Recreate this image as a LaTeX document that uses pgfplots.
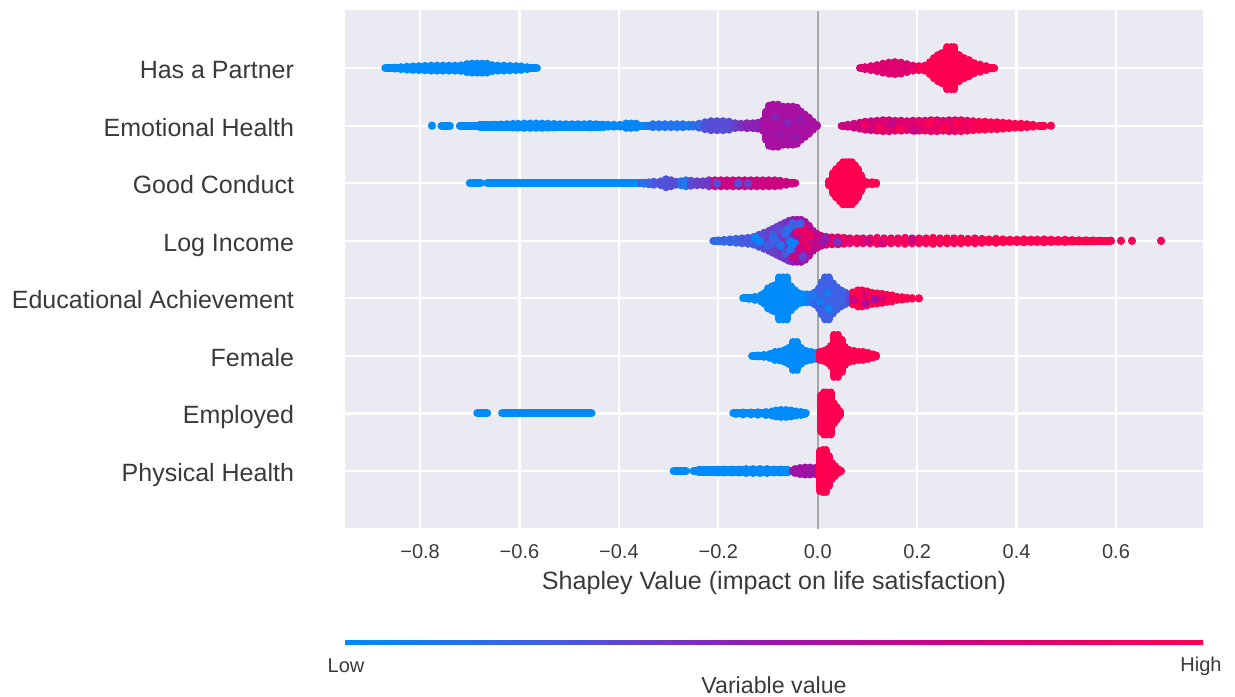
\documentclass[border=0pt]{standalone}
\usepackage{pgfplots}
\usepackage{pgfplotstable}
\usepackage{fontspec}
\setmainfont{Liberation Sans}
\pgfplotsset{compat=1.18}
\definecolor{bgc}{HTML}{EAEAF2}
\definecolor{txt}{HTML}{3A3A3A}
\definecolor{s0}{RGB}{0,139,251}
\definecolor{s1}{RGB}{70,90,225}
\definecolor{s2}{RGB}{155,20,170}
\definecolor{s3}{RGB}{215,0,120}
\definecolor{s4}{RGB}{255,0,81}
\pgfdeclarehorizontalshading{shapbar}{100bp}{
 color(0bp)=(s0);
 color(25bp)=(s0);
 color(37.5bp)=(s1);
 color(50bp)=(s2);
 color(62.5bp)=(s3);
 color(75bp)=(s4);
 color(100bp)=(s4)}
\pgfplotstableread{
x y u h m
-0.870 7 0.305 0 0
-0.850 7 0 0.5 0
-0.838 7 0 1 0
-0.826 7 0 1.5 0
-0.814 7 0 1.8 0
-0.802 7 0 2 0
-0.790 7 0 2.2 0
-0.778 7 0 2.5 0
-0.766 7 0 2.5 0
-0.754 7 0 2.5 0
-0.742 7 0 2.5 0
-0.730 7 0 2.5 0
-0.718 7 0 2.8 0
-0.706 7 0 4 0
-0.696 7 0 4.5 0
-0.686 7 0 4.5 0
-0.676 7 0 4.5 0
-0.666 7 0 4.5 0
-0.656 7 0 3 0
-0.644 7 0 2.5 0
-0.632 7 0 2.5 0
-0.620 7 0 2.2 0
-0.608 7 0 2 0
-0.596 7 0 1.8 0
-0.584 7 0 1 0
0.085 7 0.12 0 0.8
0.095 7 0 1 0.8
0.107 7 0 2 0.8
0.119 7 0 3 0.8
0.131 7 0 4.5 0.8
0.143 7 0 5.5 0.8
0.155 7 0 6 0.8
0.167 7 0 5.5 0.8
0.179 7 0 4 0.8
0.191 7 0 2.5 0.85
0.203 7 0 2 0.9
0.205 7 0.15 0 1
0.215 7 0 2.5 0.95
0.225 7 0 6 1
0.233 7 0 10 1
0.241 7 0 13 1
0.249 7 0 15 1
0.260 7 0 21 1
0.268 7 0 21 1
0.275 7 0 21 1
0.285 7 0 13 1
0.295 7 0 10 1
0.305 7 0 8 1
0.315 7 0 5 1
0.327 7 0 3.5 1
0.338 7 0 2 1
0.350 7 0 0.3 1
-0.776 6 0 0.2 0
-0.757 6 0.017 0 0
-0.720 6 0.330 0 0
-0.680 6.02 0.25 0 0
-0.680 5.98 0.25 0 0
-0.670 6 0 0.5 0
-0.650 6 0 1 0
-0.638 6 0 1.2 0
-0.626 6 0 1.5 0
-0.614 6 0 1.8 0
-0.602 6 0 2 0
-0.590 6 0 2.2 0
-0.578 6 0 2.2 0
-0.566 6 0 2.2 0
-0.554 6 0 2.2 0
-0.542 6 0 2 0
-0.530 6 0 1.8 0
-0.518 6 0 1.5 0
-0.506 6 0 1.5 0
-0.494 6 0 1.5 0
-0.482 6 0 1.5 0
-0.470 6 0 1.5 0
-0.458 6 0 1.8 0
-0.446 6 0 1.5 0
-0.434 6 0 1 0
-0.422 6 0 1 0
-0.410 6 0 1 0
-0.398 6 0 1 0
-0.390 6 0.06 0 0.02
-0.385 6 0 2.2 0.02
-0.375 6 0 2.2 0.02
-0.365 6 0 2 0.02
-0.340 6 0.09 0 0.12
-0.332 6 0 1.5 0.12
-0.320 6 0 1.5 0.12
-0.308 6 0 1.5 0.12
-0.296 6 0 1.5 0.12
-0.284 6 0 1.5 0.12
-0.272 6 0 1.5 0.12
-0.260 6 0 1 0.1
-0.250 6 0 1 0.15
-0.238 6 0 2 0.2
-0.226 6 0 3.5 0.28
-0.214 6 0 4.5 0.3
-0.202 6 0 4.5 0.3
-0.190 6 0 4.5 0.3
-0.178 6 0 4 0.3
-0.166 6 0 2.5 0.35
-0.154 6 0 2 0.4
-0.142 6 0 2.5 0.45
-0.130 6 0 2.5 0.45
-0.120 6 0 3 0.45
-0.110 6 0 5 0.5
-0.104 6 0 14 0.55
-0.098 6 0 20 0.55
-0.090 6 0 21 0.55
-0.080 6 0 21 0.55
-0.070 6 0 19 0.55
-0.060 6 0 19 0.55
-0.050 6 0 19 0.55
-0.042 6 0 18 0.55
-0.034 6 0 14 0.55
-0.026 6 0 11 0.55
-0.018 6 0 8 0.55
-0.010 6 0 4 0.55
-0.002 6 0 0.5 0.55
0.048 6 0.1 0 0.7
0.060 6 0 1 0.7
0.072 6 0 2 0.7
0.084 6 0 3 0.72
0.096 6 0 4 0.72
0.108 6 0 4.5 0.72
0.120 6 0 5 0.75
0.132 6 0 5.5 0.75
0.144 6 0 5.5 0.8
0.156 6 0 5 0.8
0.168 6 0 5 0.8
0.180 6 0 4.5 0.8
0.192 6 0 5 0.8
0.204 6 0 5 0.85
0.216 6 0 5 0.85
0.228 6 0 5.5 0.85
0.240 6 0 5.5 0.85
0.252 6 0 5 0.85
0.264 6 0 5.5 0.85
0.276 6 0 5.5 0.85
0.288 6 0 5.5 0.9
0.300 6 0 5 0.9
0.312 6 0 4.5 0.95
0.324 6 0 4 1
0.336 6 0 4 1
0.348 6 0 3.5 1
0.360 6 0 3.5 1
0.372 6 0 3 1
0.384 6 0 2.5 1
0.396 6 0 2 1
0.408 6 0 2 1
0.420 6 0 1.5 1
0.432 6 0 1 1
0.444 6 0.012 0 1
0.470 6 0 0.2 1
-0.700 5 0.022 0 0
-0.665 5 0.310 0 0
-0.355 5 0.140 0 0.25
-0.215 5 0.170 0 0.7
-0.350 5 0 0.5 0.1
-0.340 5 0 1 0.2
-0.330 5 0 1.5 0.25
-0.315 5 0 2 0.3
-0.305 5 0 4 0.28
-0.295 5 0 3 0.3
-0.285 5 0 1.5 0.3
-0.275 5 0 2 0.15
-0.265 5 0 3 0.1
-0.255 5 0 2.5 0.3
-0.243 5 0 2 0.35
-0.231 5 0 2 0.35
-0.219 5 0 3 0.38
-0.207 5 0 3 0.7
-0.195 5 0 3 0.7
-0.183 5 0 3 0.7
-0.171 5 0 3 0.7
-0.159 5 0 3 0.7
-0.147 5 0 3 0.7
-0.135 5 0 3 0.7
-0.123 5 0 3 0.7
-0.111 5 0 3 0.7
-0.099 5 0 3 0.7
-0.087 5 0 3 0.7
-0.075 5 0 2.5 0.7
-0.063 5 0 1.5 0.7
-0.052 5 0 0.5 0.7
0.022 5 0 2 1
0.030 5 0 10 1
0.037 5 0 14 1
0.044 5 0 18 1
0.050 5 0 21 1
0.056 5 0 21 1
0.062 5 0 21 1
0.068 5 0 21 1
0.074 5 0 18 1
0.080 5 0 14 1
0.086 5 0 8 1
0.092 5 0 3 1
0.100 5 0 1 1
0.110 5 0 1 1
0.118 5 0 0.5 1
-0.210 4 0.08 0 0.2
0 4 0.585 0 1
-0.200 4 0 0.5 0.15
-0.188 4 0 1 0.2
-0.176 4 0 1.5 0.2
-0.164 4 0 2 0.2
-0.152 4 0 2.5 0.25
-0.140 4 0 3 0.25
-0.128 4 0 4 0.25
-0.118 4 0 6 0.3
-0.108 4 0 8 0.3
-0.098 4 0 10 0.35
-0.090 4 0 12 0.35
-0.082 4 0 14 0.35
-0.074 4 0 16 0.38
-0.066 4 0 18 0.38
-0.058 4 0 20 0.4
-0.050 4 0 21 0.45
-0.042 4 0 21 0.5
-0.034 4 0 21 0.5
-0.026 4 0 19 0.55
-0.018 4 0 15 0.6
-0.010 4 0 10 0.6
-0.002 4 0 7 0.65
0.006 4 0 5 0.7
0.016 4 0 4 0.75
0.028 4 0 3.5 0.8
0.040 4 0 3.5 0.8
0.052 4 0 3 0.85
0.064 4 0 2.5 0.85
0.078 4 0 2.5 0.9
0.092 4 0 2.5 0.85
0.106 4 0 2.5 0.9
0.120 4 0 3 0.9
0.134 4 0 2.5 0.92
0.148 4 0 2.5 0.9
0.162 4 0 2.5 0.92
0.176 4 0 3 0.95
0.190 4 0 2.5 0.92
0.204 4 0 2.5 0.95
0.218 4 0 2.5 0.95
0.232 4 0 3 1
0.246 4 0 2.5 0.95
0.260 4 0 2.5 1
0.274 4 0 2.5 0.95
0.288 4 0 2.5 1
0.302 4 0 2 1
0.316 4 0 2.5 0.95
0.330 4 0 2 1
0.344 4 0 1.5 1
0.358 4 0 2 1
0.372 4 0 1.5 1
0.386 4 0 1.2 1
0.400 4 0 1.2 1
0.414 4 0 1.5 1
0.428 4 0 1.2 1
0.442 4 0 1.2 1
0.456 4 0 1.5 1
0.470 4 0 1.2 1
0.484 4 0 1 1
0.498 4 0 1.2 1
0.512 4 0 0.8 1
0.526 4 0 0.6 1
0.540 4 0 0.6 1
0.554 4 0 0.5 1
0.568 4 0 0.3 1
0.590 4 0 0.2 1
0.610 4 0 0.2 1
0.632 4 0 0.2 0.95
0.691 4 0 0.2 0.95
-0.150 3 0.145 0 0
-0.138 3 0 0.5 0
-0.126 3 0 1.5 0
-0.114 3 0 3 0
-0.108 3 0 5 0
-0.100 3 0 10 0
-0.092 3 0 12 0
-0.086 3 0 13 0
-0.078 3 0 21 0
-0.070 3 0 21 0
-0.062 3 0 21 0
-0.054 3 0 12 0
-0.046 3 0 8 0
-0.038 3 0 5 0
-0.030 3 0 4 0
-0.022 3 0 4 0.02
-0.014 3 0 4 0.1
-0.006 3 0 6 0.2
0.002 3 0 10 0.22
0.008 3 0 16 0.22
0.015 3 0 21 0.22
0.022 3 0 21 0.22
0.030 3 0 15 0.22
0.038 3 0 11 0.22
0.046 3 0 8 0.22
0.054 3 0 6 0.22
0.062 3 0 4 0.3
0.070 3 0.1 0 1
0.070 3 0 6 1
0.080 3 0 8 1
0.090 3 0 8 1
0.100 3 0 7 1
0.110 3 0 5.5 1
0.120 3 0 5 1
0.130 3 0 4.5 1
0.140 3 0 3.5 1
0.150 3 0 3 1
0.160 3 0 1.5 1
0.170 3 0 1.2 1
0.180 3 0 0.5 1
0.190 3 0 0.3 1
0.204 3 0 0.2 1
-0.132 2 0.13 0 0
-0.120 2 0 0.5 0
-0.108 2 0 1 0
-0.096 2 0 2 0
-0.086 2 0 4 0
-0.076 2 0 4.5 0
-0.066 2 0 6 0
-0.058 2 0 8 0
-0.050 2 0 14 0
-0.042 2 0 14 0
-0.034 2 0 8 0
-0.024 2 0 5 0
-0.014 2 0 4 0
-0.004 2 0 3 0
0.004 2 0 4 1
0.012 2 0 5 1
0.020 2 0 7 1
0.026 2 0 10 1
0.032 2 0 21 1
0.040 2 0 21 1
0.048 2 0 16 1
0.054 2 0 9 1
0.062 2 0 6 1
0.072 2 0 5 1
0.082 2 0 4 1
0.092 2 0 4 1
0.102 2 0 3 1
0.112 2 0 1.5 1
0.118 2 0 0.5 1
-0.685 1 0.02 0 0
-0.635 1 0.18 0 0
-0.170 1 0.146 0 0
-0.165 1 0 0.5 0
-0.150 1 0 1 0
-0.135 1 0 1 0
-0.120 1 0 1.2 0
-0.105 1 0 1.5 0
-0.092 1 0 2 0
-0.084 1 0 3 0
-0.074 1 0 3.5 0
-0.064 1 0 3.5 0
-0.054 1 0 3 0
-0.044 1 0 2 0
-0.034 1 0 1.5 0
-0.025 1 0 0.5 0
0.006 1 0 18 1
0.012 1 0 21 1
0.019 1 0 21 1
0.026 1 0 21 1
0.032 1 0 10 1
0.038 1 0 6 1
0.044 1 0 2 1
-0.290 0 0.025 0 0
-0.250 0 0.2 0 0
-0.240 0.02 0.18 0 0
-0.240 -0.02 0.18 0 0
-0.200 0 0 1.5 0
-0.186 0 0 1.5 0
-0.172 0 0 1.5 0
-0.158 0 0 1.5 0
-0.144 0 0 2 0
-0.130 0 0 2 0
-0.116 0 0 2 0
-0.102 0 0 2 0
-0.088 0 0 1.5 0
-0.074 0 0 1.5 0
-0.060 0 0 1 0
-0.050 0 0.05 0 0.52
-0.045 0 0 2 0.52
-0.035 0 0 3 0.52
-0.025 0 0 3.5 0.52
-0.015 0 0 3.5 0.52
-0.005 0 0 3 0.52
0.004 0 0 20 1
0.010 0 0 21 1
0.016 0 0 21 1
0.022 0 0 15 1
0.028 0 0 8 1
0.034 0 0 5 1
0.040 0 0 2 1
0.046 0 0 0.3 1
}\rods
\pgfplotstableread{
x y m
-0.085 6.15 0.45
-0.060 6.05 0.45
-0.045 5.80 0.48
-0.075 5.85 0.48
-0.035 6.10 0.48
0.095 6.02 0.9
0.125 5.96 0.95
0.150 6.05 0.65
0.165 5.95 0.95
0.225 6.04 1
0.255 5.96 1
0.280 6.04 1
0.195 5.92 0.68
-0.203 5.0 0.3
-0.160 5.0 0.3
-0.140 5.0 0.35
-0.090 4.10 0.25
-0.075 4.20 0.3
-0.100 3.92 0.2
-0.065 3.78 0.25
-0.050 4.30 0.2
-0.030 4.25 0.85
-0.020 4.15 0.8
-0.020 3.90 0.85
-0.040 3.75 0.6
-0.030 3.72 0.35
-0.125 4.05 0.02
-0.118 3.98 0.03
-0.090 4.05 0.15
-0.075 3.92 0.1
-0.055 3.85 0.12
-0.045 3.95 0.04
-0.055 3.98 0.05
-0.065 4.12 0.2
-0.045 4.25 0.2
-0.060 4.20 0.15
-0.025 4.10 0.85
-0.030 4.00 0.85
-0.015 4.08 0.9
-0.040 4.15 0.85
-0.035 3.88 0.7
-0.095 3.94 0.25
-0.085 4.00 0.2
-0.050 3.72 0.7
-0.035 4.30 0.2
0.015 4.04 0.45
0.040 3.98 0.4
0.010 3.98 0.5
0.100 4.0 0.7
0.130 3.96 0.75
0.190 4.02 0.7
0.020 3.1 0.1
0.005 2.95 0.08
0.022 2.82 0.05
-0.010 3.05 0.1
0.072 2.97 0.7
0.095 3.08 0.8
0.095 2.92 0.6
0.130 3.0 0.8
0.115 2.98 0.55
}\swarmdots
\pgfplotsset{colormap={shap}{rgb255=(0,139,251) rgb255=(70,90,225) rgb255=(155,20,170) rgb255=(215,0,120) rgb255=(255,0,81)}}
\begin{document}
\begin{tikzpicture}
\path[use as bounding box] (0,0) rectangle (617.5pt,348pt);
\begin{axis}[
 at={(172.5pt,84pt)}, anchor=south west, scale only axis,
 width=429pt, height=259pt,
 xmin=-0.951, xmax=0.775, ymin=-0.99, ymax=8.01,
 colormap name=shap, point meta min=0, point meta max=1,
 axis background/.style={fill=bgc},
 axis line style={draw=none},
 major tick length=0pt,
 grid=major, grid style={white,line width=1.1pt},
 xtick={-0.8,-0.6,-0.4,-0.2,0,0.2,0.4,0.6},
 xticklabels={−0.8,−0.6,−0.4,−0.2,0.0,0.2,0.4,0.6},
 ytick={0,1,2,3,4,5,6,7},
 yticklabels={Physical Health,Employed,Female,Educational Achievement,Log Income,Good Conduct,Emotional Health,Has a Partner},
 xticklabel style={font=\fontsize{10}{12}\selectfont,text=txt,yshift=-4.5pt},
 yticklabel style={font=\fontsize{12.5}{15}\selectfont,text=txt,anchor=east,inner sep=0pt,text height=9pt,text depth=2.6pt,xshift=-25.3pt,yshift=-2pt},
 xlabel={Shapley Value (impact on life satisfaction)},
 xlabel style={font=\fontsize{12.55}{15}\selectfont,text=txt,yshift=0.5pt},
]
\addplot[color=black!35,line width=1pt] coordinates {(0,-1) (0,8)};
\addplot[point meta=\thisrow{m},
 quiver={u=\thisrow{u},v=\thisrow{h}/28.75,colored=mapped color,
 every arrow/.append style={-,line cap=round,line width=4pt}}]
 table[x=x,y expr=\thisrow{y}-\thisrow{h}/57.5] {\rods};
\addplot[scatter,only marks,mark=*,mark size=2pt,point meta=\thisrow{m},
 scatter/use mapped color={draw=mapped color,fill=mapped color}]
 table[x=x,y=y] {\swarmdots};
\end{axis}
\shade[shading=shapbar] (172.5pt,26pt) rectangle (601.5pt,28pt);
\node[font=\fontsize{10}{12}\selectfont,text=txt] at (173pt,15pt) {Low};
\node[font=\fontsize{10}{12}\selectfont,text=txt] at (600.5pt,15pt) {High};
\node[font=\fontsize{11.6}{13}\selectfont,text=txt] at (387pt,5.5pt) {Variable value};
\end{tikzpicture}
\end{document}
